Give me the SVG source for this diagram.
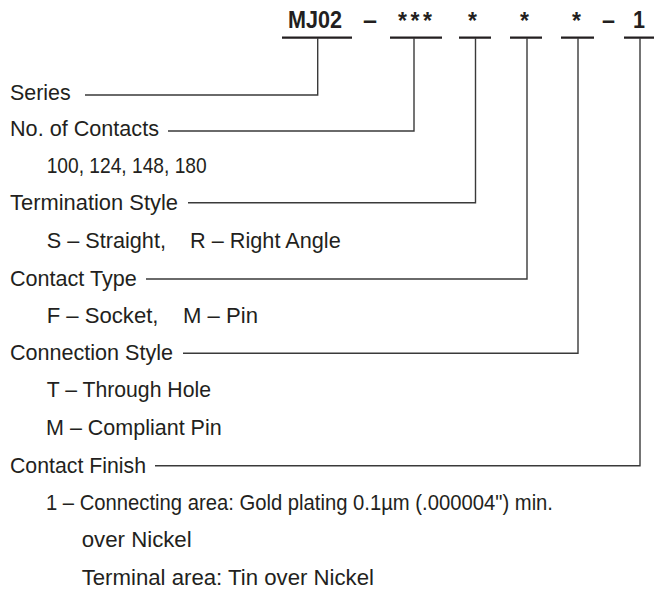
<svg xmlns="http://www.w3.org/2000/svg" width="658" height="590" viewBox="0 0 658 590">
<style>
  .t{font-family:"Liberation Sans",Arial,sans-serif;font-size:22px;fill:#231f20}
  .h{font-family:"Liberation Sans",Arial,sans-serif;font-size:23px;font-weight:bold;fill:#231f20}
  .u{stroke:#231f20;stroke-width:2.2;fill:none}
  .c{stroke:#3a3a3a;stroke-width:1.4;fill:none}
</style>
<rect width="658" height="590" fill="#ffffff"/>
<g id="header">
  <text class="h" x="288" y="28" textLength="54" lengthAdjust="spacingAndGlyphs">MJ02</text>
  <text class="h" x="363" y="28" textLength="14" lengthAdjust="spacingAndGlyphs">–</text>
  <text class="h" x="398" y="29" textLength="34" lengthAdjust="spacing">***</text>
  <text class="h" x="468" y="29">*</text>
  <text class="h" x="520" y="29">*</text>
  <text class="h" x="572" y="29">*</text>
  <text class="h" x="602" y="28" textLength="13" lengthAdjust="spacingAndGlyphs">–</text>
  <text class="h" x="633" y="28" textLength="12" lengthAdjust="spacingAndGlyphs">1</text>
  <path class="u" d="M282 37.7H352M390 37.7H442M459 37.7H491M510 37.7H542M561 37.7H594M624 37.7H654"/>
</g>
<g id="connectors">
  <path class="c" d="M317.7 38V95H85"/>
  <path class="c" d="M414 38V131H168"/>
  <path class="c" d="M475.5 38V202.7H188"/>
  <path class="c" d="M527 38V279H146"/>
  <path class="c" d="M578 38V353.3H183"/>
  <path class="c" d="M640 38V465.7H155"/>
</g>
<g id="series"><text class="t" x="10" y="99.5" textLength="60.7" lengthAdjust="spacingAndGlyphs">Series</text></g>
<g id="contacts">
  <text class="t" x="10" y="135.5" textLength="149" lengthAdjust="spacingAndGlyphs">No. of Contacts</text>
  <text class="t" x="46.7" y="172.5" textLength="160" lengthAdjust="spacingAndGlyphs">100, 124, 148, 180</text>
</g>
<g id="termination">
  <text class="t" x="10" y="209.5" textLength="168" lengthAdjust="spacingAndGlyphs">Termination Style</text>
  <text class="t" x="46.7" y="247.5" textLength="294" lengthAdjust="spacingAndGlyphs" xml:space="preserve">S – Straight,    R – Right Angle</text>
</g>
<g id="contact-type">
  <text class="t" x="10" y="285.5" textLength="126.7" lengthAdjust="spacingAndGlyphs">Contact Type</text>
  <text class="t" x="46.7" y="322.5" textLength="211.3" lengthAdjust="spacingAndGlyphs" xml:space="preserve">F – Socket,    M – Pin</text>
</g>
<g id="connection-style">
  <text class="t" x="10" y="359.5" textLength="163" lengthAdjust="spacingAndGlyphs">Connection Style</text>
  <text class="t" x="46.7" y="397" textLength="164.3" lengthAdjust="spacingAndGlyphs">T – Through Hole</text>
  <text class="t" x="46" y="434.5" textLength="175.7" lengthAdjust="spacingAndGlyphs">M – Compliant Pin</text>
</g>
<g id="contact-finish">
  <text class="t" x="10" y="472.5" textLength="136" lengthAdjust="spacingAndGlyphs">Contact Finish</text>
  <text class="t" x="46" y="510" textLength="507" lengthAdjust="spacingAndGlyphs">1 – Connecting area: Gold plating 0.1µm (.000004") min.</text>
  <text class="t" x="81.7" y="547" textLength="110" lengthAdjust="spacingAndGlyphs">over Nickel</text>
  <text class="t" x="81.7" y="584.5" textLength="292.3" lengthAdjust="spacingAndGlyphs">Terminal area: Tin over Nickel</text>
</g>
</svg>
